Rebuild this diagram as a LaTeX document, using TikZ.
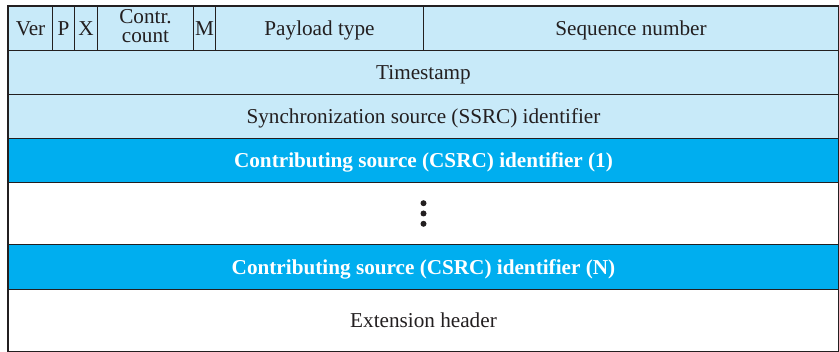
\documentclass[tikz,border=0pt]{standalone}
\usepackage{fontspec}
\setmainfont{Liberation Serif}
\definecolor{lightcell}{HTML}{C8EAF9}
\definecolor{darkcell}{HTML}{00AEEF}
\definecolor{ink}{HTML}{231F20}
\begin{document}
\begin{tikzpicture}[x=1pt,y=-1pt,
  cell/.style={draw=ink, line width=1pt, rectangle, inner sep=0pt, anchor=north west,
    font=\fontsize{21.2}{19.6}\selectfont, text=ink, align=center, text depth=0pt},
  light/.style={cell, fill=lightcell},
  darkrow/.style={cell, fill=darkcell, text=white, font=\fontsize{21.2}{19.6}\selectfont\bfseries},
  plainrow/.style={cell, fill=white},
  dot/.style={fill=ink}]
\useasboundingbox (0,0) rectangle (839,352);
% first row
\node[light, minimum width=44pt,  minimum height=44pt] (ver) at (8,6)   {Ver};
\node[light, minimum width=22pt,  minimum height=44pt] (p)   at (52,6)  {P};
\node[light, minimum width=23pt,  minimum height=44pt] (x)   at (74,6)  {X};
\node[light, minimum width=96pt,  minimum height=44pt, text depth=5pt] (cc)  at (97,6)  {Contr.\\count};
\node[light, minimum width=22pt,  minimum height=44pt] (m)   at (193,6) {M};
\node[light, minimum width=208pt, minimum height=44pt] (pt)  at (215,6) {Payload type};
\node[light, minimum width=415pt, minimum height=44pt] (sn)  at (423,6) {Sequence number};
% full-width rows
\node[light, minimum width=830pt, minimum height=44pt] (ts)   at (8,50)  {Timestamp};
\node[light, minimum width=830pt, minimum height=44pt] (ssrc) at (8,94)  {Synchronization source (SSRC) identifier};
\node[darkrow, minimum width=830pt, minimum height=44pt] (c1) at (8,138) {Contributing source (CSRC) identifier (1)};
\node[plainrow, minimum width=830pt, minimum height=62pt] (dots) at (8,182) {};
\node[darkrow, minimum width=830pt, minimum height=45pt] (cn) at (8,244) {Contributing source (CSRC) identifier (N)};
\node[plainrow, minimum width=830pt, minimum height=62pt] (ext) at (8,289) {Extension header};
% vertical ellipsis
\fill[dot] (dots.center) ++(0,-10.3) circle (3pt);
\fill[dot] (dots.center) circle (3pt);
\fill[dot] (dots.center) ++(0,10.3) circle (3pt);
% outer frame
\draw[ink, line width=1.4pt] (ver.north west) rectangle (ext.south east);
\end{tikzpicture}
\end{document}
